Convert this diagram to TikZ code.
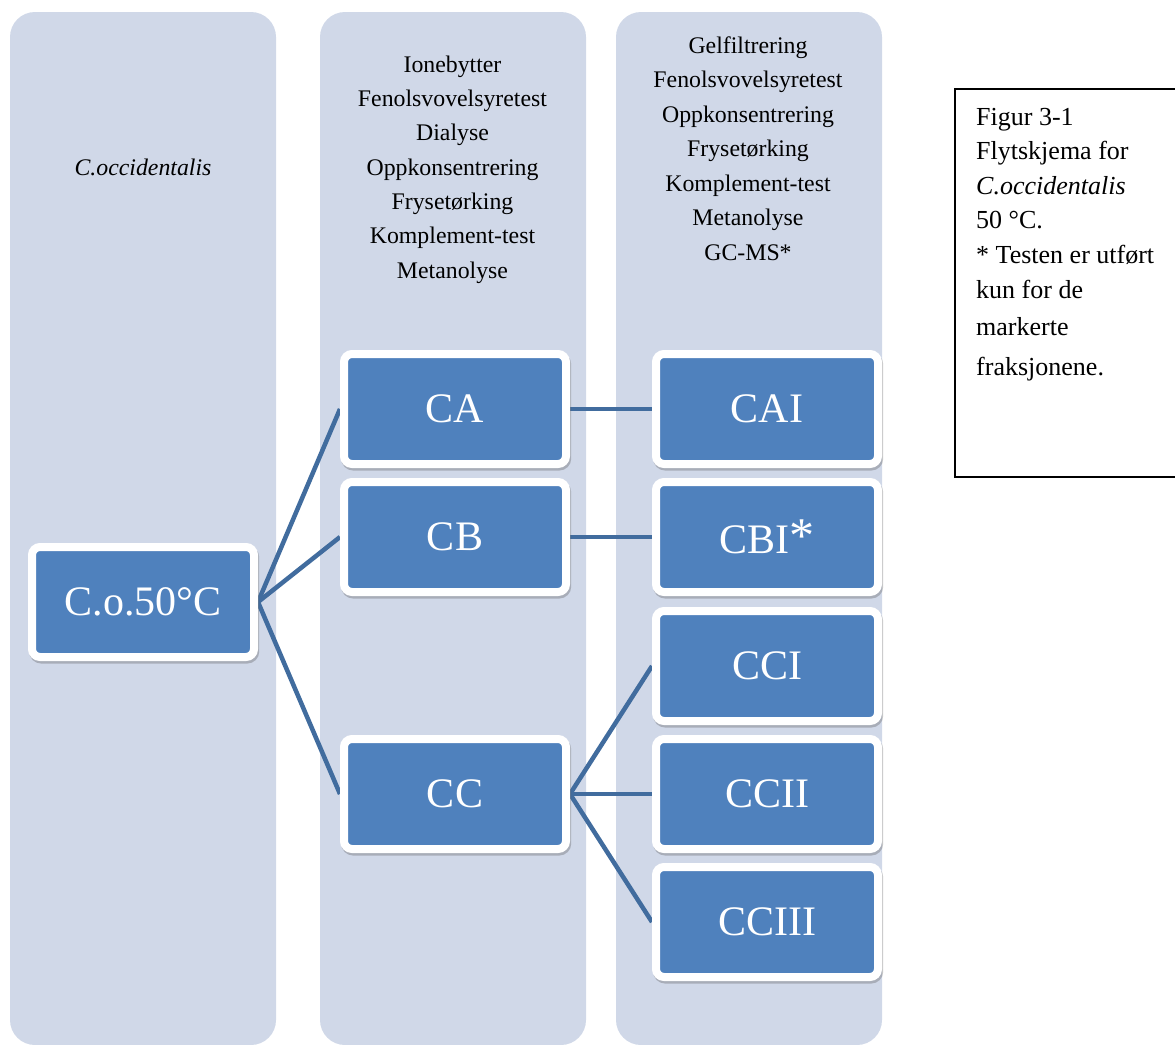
\documentclass[tikz,border=0pt]{standalone}
\usepackage{fontspec}
\setmainfont{Liberation Serif}
\usetikzlibrary{shadows,backgrounds}
\definecolor{colbg}{RGB}{208,216,232}
\definecolor{boxfill}{RGB}{79,129,189}
\definecolor{linkc}{RGB}{65,108,158}
\begin{document}
\begin{tikzpicture}[x=1pt,y=-1pt,
  colbox/.style={fill=colbg, rounded corners=25pt},
  fbox/.style={draw=white, line width=8pt, fill=boxfill, rounded corners=8pt,
    minimum width=222pt, minimum height=110pt, inner sep=0pt, text=white,
    font=\fontsize{42}{50}\selectfont,
    drop shadow={shadow xshift=1.2pt, shadow yshift=-2.5pt, opacity=0.3, fill=black!70, draw=black!70, line width=8pt}},
  link/.style={draw=linkc, line width=4.5pt},
  coltext/.style={anchor=base, font=\fontsize{23.8}{28}\selectfont, inner sep=0pt},
  captext/.style={anchor=base west, font=\fontsize{26}{30}\selectfont, inner sep=0pt}]
\useasboundingbox (0,0) rectangle (1175,1044);

% boxes
\node[fbox] (co) at (143,602) {C.o.50°C};
\node[fbox] (ca) at (455,409) {CA};
\node[fbox] (cb) at (455,537) {CB};
\node[fbox] (cc) at (455,794) {CC};
\node[fbox] (cai) at (767,409) {CAI};
\node[fbox] (cbi) at (767,537) {CBI\raisebox{1pt}{\fontsize{50}{50}\selectfont *}};
\node[fbox] (cci) at (767,666) {CCI};
\node[fbox] (ccii) at (767,794) {CCII};
\node[fbox] (cciii) at (767,922) {CCIII};

\begin{scope}[on background layer]
  \fill[colbox] (10,12) rectangle (276,1045);
  \fill[colbox] (320,12) rectangle (586,1045);
  \fill[colbox] (616,12) rectangle (882,1045);
  \draw[link] (co.east) -- (ca.west);
  \draw[link] (co.east) -- (cb.west);
  \draw[link] (co.east) -- (cc.west);
  \draw[link] (ca.east) -- (cai.west);
  \draw[link] (cb.east) -- (cbi.west);
  \draw[link] (cc.east) -- (cci.west);
  \draw[link] (cc.east) -- (ccii.west);
  \draw[link] (cc.east) -- (cciii.west);
\end{scope}

% column texts
\node[coltext] (c1) at (143,175) {\textit{C.occidentalis}};
\foreach \t [count=\i] in {Ionebytter,Fenolsvovelsyretest,Dialyse,Oppkonsentrering,Frysetørking,Komplement-test,Metanolyse}
  \node[coltext] (c2-\i) at (452.5,{72+34.35*(\i-1)}) {\t};
\foreach \t [count=\i] in {Gelfiltrering,Fenolsvovelsyretest,Oppkonsentrering,Frysetørking,Komplement-test,Metanolyse,GC-MS*}
  \node[coltext] (c3-\i) at (748,{53+34.5*(\i-1)}) {\t};

% caption
\draw[line width=1.5pt] (955,89) rectangle (1190,477);
\node[captext] (k1) at (976,125) {Figur 3-1};
\node[captext] (k2) at (976,159.5) {Flytskjema for};
\node[captext] (k3) at (976,194) {\textit{C.occidentalis}};
\node[captext] (k4) at (976,228.5) {50 °C.};
\node[captext] (k5) at (976,263) {* Testen er utført};
\node[captext] (k6) at (976,298) {kun for de};
\node[captext] (k7) at (976,335) {markerte};
\node[captext] (k8) at (976,375) {fraksjonene.};
\end{tikzpicture}
\end{document}
